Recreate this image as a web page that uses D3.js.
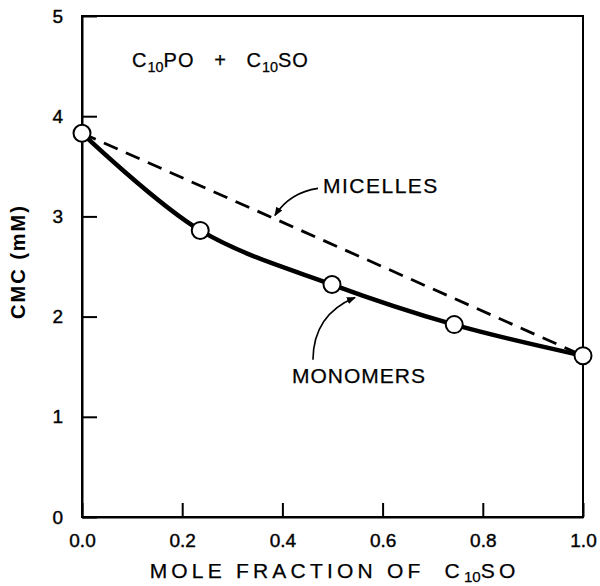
<!DOCTYPE html>
<html>
<head>
  <meta charset="utf-8">
  <script src="https://d3js.org/d3.v7.min.js"></script>
  <style>
    body { margin: 0; background: #fff; }
    svg { font-family: "Liberation Sans", Arial, sans-serif; }
    svg text { white-space: pre; }
    .axis path, .axis line { stroke: #000; stroke-width: 2; fill: none; }
    .axis text { font-size: 19px; fill: #000; stroke: #000; stroke-width: 0.4; }
    .lbl { stroke: #000; stroke-width: 0.25; }
  </style>
</head>
<body>
<div id="chart"></div>
<script>
  // CMC of mixed C10PO / C10SO solutions
  var moleFraction = [0.0, 0.236, 0.499, 0.743, 1.0];
  var cmcMonomers = [3.83, 2.86, 2.32, 1.92, 1.61];
  // ideal mixing line between the pure-component CMCs
  var micelleX = [0.0, 1.0];
  var micelleY = [3.83, 1.61];
  var xTicks = [0.0, 0.2, 0.4, 0.6, 0.8, 1.0];
  var yTicks = [0, 1, 2, 3, 4, 5];

  var margin = {top: 16, right: 17, bottom: 69, left: 82},
    width = 600 - margin.left - margin.right,
    height = 586 - margin.top - margin.bottom;

  var svg = d3.select("#chart").append("svg")
    .attr("width", 600)
    .attr("height", 586)
    .append("g")
    .attr("transform", "translate(" + margin.left + "," + margin.top + ")");

  var x = d3.scaleLinear().domain([0, 1]).range([0, width]);
  var y = d3.scaleLinear().domain([0, 5]).range([height, 0]);

  svg.append("defs").append("marker")
    .attr("id", "arrow")
    .attr("viewBox", "0 0 10 10")
    .attr("refX", 9).attr("refY", 5)
    .attr("markerWidth", 9).attr("markerHeight", 9)
    .attr("markerUnits", "userSpaceOnUse")
    .attr("orient", "auto")
    .append("path")
    .attr("d", "M0,1 L10,5 L0,9 z")
    .attr("fill", "#000");

  // frame
  svg.append("rect")
    .attr("width", width).attr("height", height)
    .attr("fill", "none").attr("stroke", "#000").attr("stroke-width", 2);

  svg.append("g")
    .attr("class", "x axis")
    .attr("transform", "translate(0," + height + ")")
    .call(d3.axisBottom(x).tickValues(xTicks).tickFormat(d3.format(".1f"))
      .tickSizeInner(-14).tickSizeOuter(0).tickPadding(17));

  svg.append("g")
    .attr("class", "y axis")
    .call(d3.axisLeft(y).tickValues(yTicks).tickFormat(d3.format("d"))
      .tickSizeInner(-15).tickSizeOuter(0).tickPadding(19));

  // micelles: dashed straight line
  var straight = d3.line()
    .x(function(d) { return x(d[0]); })
    .y(function(d) { return y(d[1]); });

  svg.append("path")
    .datum(d3.zip(micelleX, micelleY))
    .attr("d", straight)
    .attr("fill", "none")
    .attr("stroke", "#000")
    .attr("stroke-width", 2.8)
    .attr("stroke-dasharray", "15,9");

  // monomers: smooth curve through the points
  var smooth = d3.line()
    .x(function(d) { return x(d[0]); })
    .y(function(d) { return y(d[1]); })
    .curve(d3.curveCatmullRom.alpha(0.5));

  svg.append("path")
    .datum(d3.zip(moleFraction, cmcMonomers))
    .attr("d", smooth)
    .attr("fill", "none")
    .attr("stroke", "#000")
    .attr("stroke-width", 4.5);

  svg.selectAll("circle.pt")
    .data(d3.zip(moleFraction, cmcMonomers))
    .enter().append("circle")
    .attr("class", "pt")
    .attr("cx", function(d) { return x(d[0]); })
    .attr("cy", function(d) { return y(d[1]); })
    .attr("r", 8.5)
    .attr("fill", "#fff")
    .attr("stroke", "#000")
    .attr("stroke-width", 2);

  // labels with leader arrows (data coordinates)
  function leader(from, ctrl, to) {
    svg.append("path")
      .attr("d", "M" + x(from[0]) + "," + y(from[1]) +
        " Q" + x(ctrl[0]) + "," + y(ctrl[1]) + " " + x(to[0]) + "," + y(to[1]))
      .attr("fill", "none")
      .attr("stroke", "#000")
      .attr("stroke-width", 1.6)
      .attr("marker-end", "url(#arrow)");
  }
  leader([0.471, 3.28], [0.415, 3.24], [0.385, 3.01]);
  leader([0.461, 1.57], [0.462, 2.02], [0.545, 2.19]);

  svg.append("text")
    .attr("class", "lbl")
    .attr("x", x(0.481)).attr("y", y(3.23))
    .attr("font-size", 21).attr("letter-spacing", 1.5)
    .text("MICELLES");

  svg.append("text")
    .attr("class", "lbl")
    .attr("x", x(0.419)).attr("y", y(1.34))
    .attr("font-size", 21).attr("letter-spacing", 1)
    .text("MONOMERS");

  // C10PO + C10SO, with subscripts
  function formula(t, parts, size, drop) {
    parts.forEach(function(p) {
      var s = t.append("tspan").text(p[0]);
      if (p[1]) s.attr("font-size", size * 0.72).attr("dy", drop).attr("letter-spacing", 0);
      else s.attr("dy", p[2] ? -drop : 0);
    });
  }
  var title = svg.append("text")
    .attr("class", "lbl")
    .attr("x", x(0.1)).attr("y", y(4.49))
    .attr("font-size", 20).attr("letter-spacing", 1);
  formula(title, [["C"], ["10", true], ["PO   +   C", false, true], ["10", true], ["SO", false, true]], 20, 5);

  svg.append("text")
    .attr("transform", "translate(" + (-57) + "," + y(2.55) + ") rotate(-90)")
    .attr("text-anchor", "middle")
    .attr("font-size", 20).attr("font-weight", "bold").attr("letter-spacing", 2)
    .text("CMC (mM)");

  var xt = svg.append("text")
    .attr("class", "lbl")
    .attr("x", x(0.135)).attr("y", height + 61)
    .attr("font-size", 21).attr("letter-spacing", 4.2);
  formula(xt, [["MOLE FRACTION OF  C"], ["10", true], ["SO", false, true]], 21, 4);
</script>
</body>
</html>
